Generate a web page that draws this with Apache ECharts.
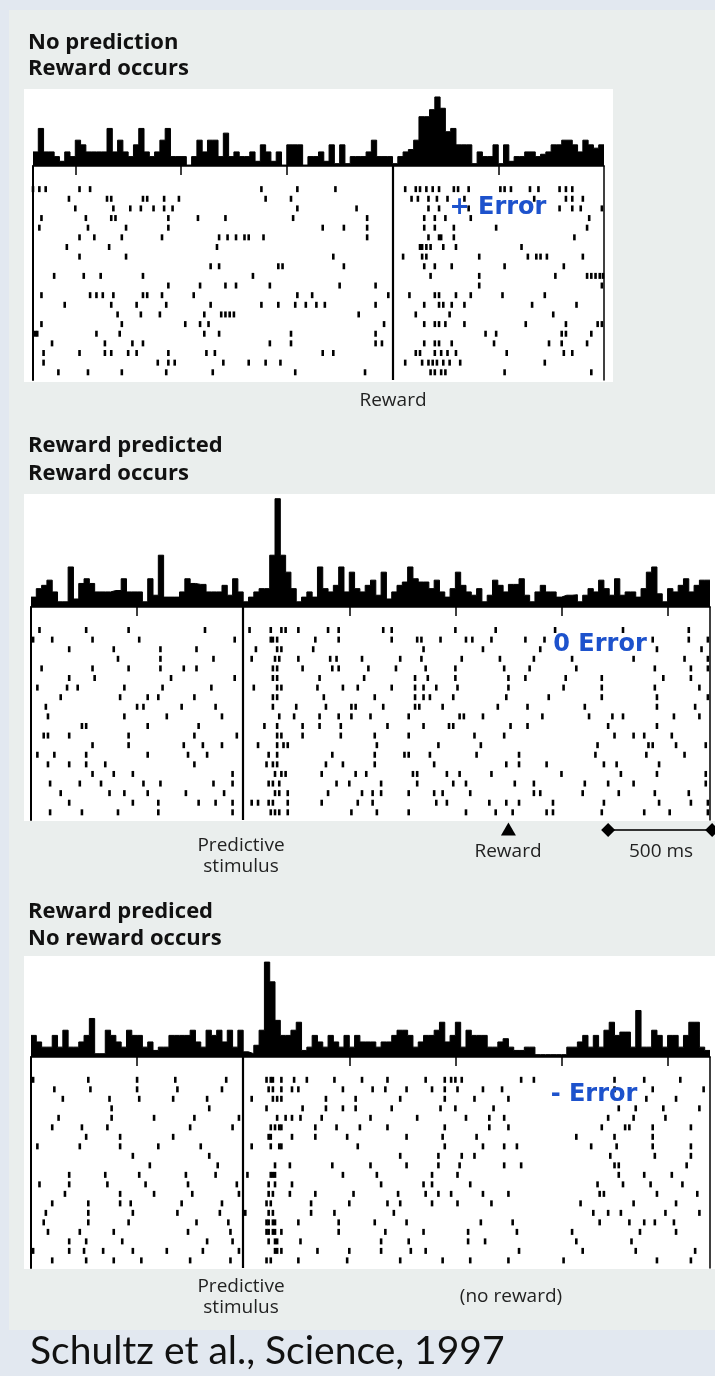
<!DOCTYPE html>
<html><head><meta charset="utf-8">
<script src="https://cdn.jsdelivr.net/npm/echarts@6/dist/echarts.min.js"></script>
<style>html,body{margin:0;padding:0;background:#e2e8f0}#c{width:715px;height:1376px}</style>
</head><body><div id="c"></div>
<script>
// ---------- data ----------
const BIN = 0.025; // histogram bin width (s)

// Panel 1: No prediction, reward occurs (time relative to reward, s)
const p1Range = [-1.7, 1.0];
const p1Ticks = [-1.5, -1.0, -0.5, 0.5];
const p1Hist = [3,8,3,3,2,1,3,2,5.5,4.5, 3,3,3,3,8,3,5.5,3,2,4.5,
  8,3,2,3,5.5,8,2,2,2,0.2, 2,5.5,3,5.5,5.5,2,7,2,3,2,
  2,3,1,4.5,3,1,3,0.2,4.5,4.5, 4.5,0.2,2,2,3,1,4.5,0.5,4.5,0.5,
  2,2,2,3,5.5,2,2,2,0.5,2, 3,3.5,5.5,10.5,10.5,12,14.7,12.3,7.3,8,
  4.5,4.5,4.5,0.5,3,2,2,4.5,0.5,4.5, 1,2,2,3,3,2,2.5,3,4.5,4.5,
  5.5,5.5,4.5,3,5.5,4.5,3.8,4.5];
const p1Raster = [
  [-1.70,-1.67,-1.64,-1.48,-1.43,-0.62,-0.45,-0.27,0.06,0.11,0.13,0.16,0.19,0.22,0.29,0.31,0.36,0.51,0.53,0.56,0.65,0.69,0.79,0.82,0.85],
  [-1.53,-1.35,-1.33,-1.18,-1.16,-1.08,-1.01,-0.60,-0.48,0.09,0.12,0.17,0.21,0.26,0.34,0.67,0.82,0.85,0.90],
  [-1.50,-1.32,-1.24,-1.19,-1.13,-1.08,-1.04,-0.45,-0.17,0.17,0.22,0.36,0.79,0.85,0.89,0.99],
  [-1.66,-1.45,-1.33,-1.31,-1.06,-0.92,-0.79,-0.47,-0.12,0.15,0.20,0.25,0.37,0.93],
  [-1.67,-1.44,-1.26,-1.06,-0.33,-0.23,-0.12,0.15,0.20,0.29,0.49,0.92],
  [-1.48,-1.41,-1.28,-1.09,-0.82,-0.78,-0.74,-0.70,-0.68,-0.61,-0.12,0.17,0.22,0.23,0.29,0.86],
  [-1.54,-1.34,-0.83,0.13,0.14,0.16,0.18,0.24,0.30,0.61],
  [-1.48,-1.26,-0.28,0.05,0.14,0.16,0.41,0.64,0.68,0.70,0.73,0.90],
  [-0.86,-0.82,-0.54,-0.52,-0.23,0.15,0.20,0.28,0.53,0.81],
  [-1.60,-1.46,-1.38,-1.18,-0.66,0.18,0.41,0.77,0.92,0.94,0.96,0.98,0.995],
  [-1.06,-0.91,-0.79,-0.74,-0.58,-0.25,-0.08,0.41,0.99],
  [-1.66,-1.43,-1.40,-1.37,-1.32,-1.18,-1.16,-1.09,-0.94,-0.45,-0.38,-0.02,0.08,0.20,0.22,0.30,0.37,0.52,0.72],
  [-1.55,-1.33,-1.21,-1.07,-0.86,-0.62,-0.54,-0.46,-0.41,-0.36,-0.32,-0.08,0.15,0.22,0.24,0.28,0.34,0.66,0.87],
  [-1.30,-1.19,-1.10,-0.89,-0.81,-0.79,-0.77,-0.75,-0.16,0.11,0.27,0.76],
  [-1.66,-1.28,-0.98,-0.91,-0.87,-0.04,0.15,0.20,0.22,0.25,0.34,0.63,0.82,0.97,0.99],
  [-1.69,-1.68,-1.40,-1.29,-0.89,-0.82,-0.48,-0.08,0.44,0.49,0.80,0.82,0.94],
  [-1.61,-1.36,-1.23,-1.18,-0.58,-0.48,-0.08,-0.05,0.15,0.20,0.22,0.28,0.48,0.74,0.80,0.92],
  [-1.65,-1.48,-1.36,-1.33,-1.25,-1.21,-1.06,-0.88,-0.84,-0.33,-0.28,0.11,0.13,0.20,0.23,0.26,0.30,0.54,0.81,0.85],
  [-1.65,-1.11,-1.06,-1.03,-0.80,-0.68,-0.60,-0.53,0.06,0.14,0.17,0.19,0.21,0.24,0.27,0.32,0.72],
  [-1.58,-1.44,-1.28,-1.07,-0.85,-0.46,-0.13,0.18,0.20,0.23,0.25,0.53,0.94]
];

// Panels 2 and 3: time relative to predictive stimulus (s)
const p23Range = [-1.0, 2.2];
const p23Ticks = [-0.5, 0.5, 1.0, 1.5, 2.0];
const rewardTime = 1.25;
const scaleBar = [1.72, 2.21]; // 500 ms

const p2Hist = [2.1,3.9,4.6,5.7,3.2,1.1,1.1,8.5,1.7,5, 6,5,3.2,3.2,3.2,3.5,3.5,6,3.2,3.2,
  3.2,1.1,6,2.5,11,2.1,2.1,2.1,3.2,6, 5,4.8,4.8,3.2,3.2,3.2,4.6,2.5,6,3.2,
  1.1,2.1,3.2,3.9,3.9,11,23,11,7.4,3.9, 1.1,2.1,3.2,2.1,8.5,3.9,3.2,4.6,8.5,3.2,
  7.4,3.9,3.2,4.6,5.7,2.5,7.4,1.7,3.2,4.6, 5.3,8.5,6,5.3,5.3,3.9,5.7,3.2,2.1,3.9,
  7.4,4.6,3.2,2.5,3.9,1.1,2.5,5.7,4.6,3.2, 4.8,4.8,6,2.5,1.1,3.2,4.6,3.2,3.2,2.1,
  2.5,2.5,2.6,1.1,2.5,3.9,3.2,5.7,3.9,2.5, 6,2.5,3.2,3.2,2.1,3.9,7.4,8.5,2.8,1.1,
  3.9,3.2,4.6,6,3.2,4.6,5.7,5.7];
const p2Raster = [
  [-0.96,-0.74,-0.54,-0.18,0.03,0.13,0.18,0.20,0.26,0.40,0.45,0.66,0.70,1.00,1.19,1.47,1.79,2.10],
  [-0.99,-0.90,-0.71,-0.49,-0.04,0.13,0.14,0.16,0.34,0.45,0.70,0.82,0.84,0.93,1.05,1.08,1.17,1.33,1.42,1.93,2.10,2.19],
  [-0.82,-0.61,-0.39,-0.22,0.06,0.16,0.18,0.33,0.85,1.13,1.40,1.95,2.16],
  [-0.59,-0.39,-0.14,0.04,0.15,0.17,0.26,0.41,0.44,0.56,0.74,0.84,1.03,1.21,1.37,1.55,1.84,2.08,2.19],
  [-0.95,-0.71,-0.54,-0.39,-0.28,-0.22,0.14,0.16,0.28,0.42,0.45,0.59,0.72,0.86,1.00,1.23,1.35,1.57,1.94,2.11,2.19],
  [-0.82,-0.70,-0.34,-0.04,0.14,0.16,0.36,0.57,0.81,0.87,1.00,1.25,1.33,1.52,1.69,1.98,2.11],
  [-0.97,-0.83,-0.78,-0.56,-0.38,-0.15,0.05,0.16,0.18,0.35,0.47,0.54,0.70,0.81,0.85,0.91,1.01,1.25,1.51,1.69,1.94,2.15],
  [-0.86,-0.58,-0.45,-0.40,-0.23,0.14,0.16,0.38,0.62,0.81,0.85,0.88,0.99,1.24,1.44,1.69,1.95,2.19],
  [-0.93,-0.50,-0.47,-0.29,-0.13,0.14,0.25,0.39,0.51,0.53,0.66,0.81,0.83,0.94,1.20,1.34,1.61,1.95,2.13],
  [-0.92,-0.56,-0.36,-0.10,0.17,0.24,0.36,0.45,0.51,0.60,0.78,1.02,1.04,1.13,1.41,1.63,1.74,1.79,2.03,2.15],
  [-0.76,-0.74,-0.45,-0.21,0.10,0.16,0.28,0.36,0.46,0.68,0.85,0.97,0.99,1.26,1.34,1.72,1.95],
  [-0.94,-0.92,-0.82,-0.54,-0.23,-0.03,0.16,0.18,0.28,0.46,0.62,0.78,1.09,1.23,1.75,1.84,1.89,2.02],
  [-0.71,-0.54,-0.28,-0.19,-0.10,0.07,0.16,0.19,0.21,0.63,0.92,1.12,1.67,1.91,1.93,2.04,2.18],
  [-0.97,-0.89,-0.74,-0.45,-0.26,-0.17,0.12,0.16,0.42,0.62,0.76,0.78,0.88,1.10,1.30,1.66,1.90,2.08],
  [-0.92,-0.82,-0.74,-0.65,-0.23,0.11,0.14,0.16,0.39,0.47,0.62,0.90,1.24,1.30,1.43,1.70,1.76,1.96],
  [-0.71,-0.61,-0.52,-0.05,0.15,0.18,0.20,0.37,0.53,0.58,0.80,0.82,0.96,1.02,1.17,1.50,1.78,1.95,2.18],
  [-0.91,-0.77,-0.67,-0.47,-0.39,-0.14,-0.05,0.12,0.14,0.17,0.44,0.50,0.65,0.82,0.99,1.05,1.28,1.37,1.61,1.72,1.84,2.18],
  [-0.86,-0.63,-0.56,-0.45,-0.27,-0.09,0.15,0.17,0.21,0.40,0.56,0.61,0.65,0.78,0.90,0.94,1.07,1.37,1.40,1.60,1.77,1.94,2.10],
  [-0.82,-0.52,-0.40,-0.21,-0.13,-0.05,0.04,0.07,0.12,0.14,0.21,0.37,0.54,0.61,0.91,0.96,1.16,1.24,1.30,1.46,1.70,1.96,2.11,2.19],
  [-0.91,-0.76,-0.59,-0.40,-0.05,0.13,0.15,0.17,0.21,0.51,0.63,0.78,1.05,1.19,1.27,1.43,1.46,1.69,1.89,2.01,2.19]
];

const p3Hist = [4.6,3.2,2.1,2.1,4.6,2.1,5.7,2.1,2.1,3.2, 4.6,8.2,0.7,0.7,5.7,4.6,3.2,2.1,5.7,4.6,
  4.6,2.1,3.2,1.4,2.1,2.1,4.6,4.6,4.6,4.6, 5.7,3.2,2.1,5.7,4.6,5.7,3.2,5.7,2.1,5.7,
  1.1,0.7,2.5,5.7,20.2,16,7.8,4.6,4.6,5.7, 7.4,1.4,2.1,4.6,3.2,2.1,4.6,3.2,2.1,4.6,
  2.1,4.6,3.2,3.2,3.2,2.1,3.2,3.2,4.6,5.7, 5.7,4.6,2.1,3.2,4.6,4.6,5.7,7.4,3.2,4.6,
  7.4,2.1,5.7,4.6,4.6,4.6,2.1,2.1,3.2,3.9, 2.1,1.4,1.4,2.1,2.1,0.5,0.5,0.5,0.5,0.5,
  0.5,2.1,2.1,3.2,4.6,2.1,4.6,2.1,5.7,7.4, 4.6,5.3,5.3,2.1,9.9,2.1,2.1,5.7,4.6,2.1,
  4.6,4.6,2.1,4.6,7.4,7.4,2.1,1.4];
const p3Raster = [
  [-0.99,-0.73,-0.50,-0.32,-0.08,0.11,0.13,0.14,0.18,0.24,0.30,0.43,0.56,0.68,0.86,0.95,0.98,1.00,1.03,1.31,1.37,1.75,1.89,2.06],
  [-0.89,-0.72,-0.50,-0.31,-0.10,0.12,0.14,0.18,0.23,0.26,0.47,0.61,0.67,0.77,0.89,0.95,1.01,1.13,1.22,1.75,1.93,2.17],
  [-0.85,-0.63,-0.49,-0.33,-0.17,0.04,0.14,0.16,0.18,0.39,0.53,0.74,0.95,1.09,1.25,1.90,2.04],
  [-0.62,-0.16,0.11,0.28,0.39,0.47,0.53,0.70,0.93,1.00,1.18,1.77,1.85,1.98,2.15],
  [-0.87,-0.62,-0.42,-0.23,-0.02,0.16,0.20,0.23,0.27,0.37,0.60,0.82,1.05,1.16,1.23,1.72,1.84,1.99],
  [-0.90,-0.76,-0.64,-0.25,-0.05,0.13,0.15,0.17,0.18,0.34,0.44,0.55,0.68,0.95,1.16,1.25,1.69,1.80,1.82,1.93,2.11],
  [-0.74,-0.58,-0.33,0.12,0.13,0.23,0.34,0.49,0.77,0.94,1.10,1.57,1.75,1.93],
  [-0.97,-0.77,-0.58,-0.40,-0.20,0.04,0.13,0.17,0.18,0.54,0.95,1.13,1.23,1.29,1.64,1.76,1.93,2.11],
  [-0.52,-0.16,0.74,0.92,1.03,1.09,1.73,1.94,2.11],
  [-0.44,-0.12,0.15,0.22,0.42,0.60,0.77,0.92,1.02,1.23,1.31,1.75,1.77,2.09],
  [-0.82,-0.65,-0.49,-0.27,-0.13,0.02,0.13,0.14,0.15,0.47,0.63,0.89,1.01,1.77,1.89,2.02],
  [-0.96,-0.82,-0.64,-0.46,-0.26,-0.03,0.12,0.15,0.23,0.65,0.85,0.89,1.07,1.67,1.79,1.92,2.07],
  [-0.84,-0.58,-0.42,-0.24,-0.02,0.12,0.14,0.22,0.34,0.52,0.73,0.86,0.92,0.98,1.13,1.25,1.68,1.70,1.95,2.14],
  [-0.90,-0.73,-0.58,-0.53,-0.29,-0.10,0.11,0.13,0.32,0.50,0.68,0.74,0.89,1.01,1.17,1.59,1.84,2.04],
  [-0.93,-0.73,-0.52,-0.31,-0.11,0.01,0.12,0.14,0.32,0.43,0.71,1.65,1.72,1.78,1.99,2.15],
  [-0.94,-0.73,-0.54,-0.22,-0.07,0.11,0.12,0.14,0.15,0.26,0.45,0.62,0.77,1.12,1.27,1.68,1.82,1.89,1.94,2.03],
  [-0.92,-0.77,-0.61,-0.26,-0.06,0.11,0.12,0.14,0.15,0.18,0.45,0.67,0.85,1.06,1.29,1.55,1.87,2.04],
  [-0.82,-0.74,-0.57,-0.17,-0.05,0.12,0.15,0.16,0.27,0.65,0.78,1.06,1.14,1.57,1.83],
  [-0.99,-0.82,-0.75,-0.66,-0.52,-0.36,-0.19,-0.02,0.15,0.16,0.18,0.35,0.50,0.65,0.79,0.86,1.30,1.60,1.85,2.13],
  [-0.90,-0.74,-0.61,-0.48,-0.25,-0.06,0.11,0.13,0.26,0.49,0.74,0.94,1.07,1.25,1.51,1.95,2.11]
];

// ---------- helpers ----------
function histData(h, start) {
  const d = h.map((v, i) => [+(start + i * BIN).toFixed(4), v]);
  d.push([+(start + h.length * BIN).toFixed(4), h[h.length - 1]]);
  return d;
}
function rasterData(r) {
  const d = [];
  r.forEach((row, i) => row.forEach(t => d.push([t, i])));
  return d;
}

const RY = [-2.4, 19.8]; // raster row axis (trial index, top to bottom)

// panel geometry
const panels = [
  { range: p1Range, ticks: p1Ticks, hist: p1Hist, raster: p1Raster, left: 33, width: 571, hTop: 89, hH: 77, rH: 214, hMax: 16.4 },
  { range: p23Range, ticks: p23Ticks, hist: p2Hist, raster: p2Raster, left: 31, width: 679, hTop: 494, hH: 113, rH: 213, hMax: 24.0 },
  { range: p23Range, ticks: p23Ticks, hist: p3Hist, raster: p3Raster, left: 31, width: 679, hTop: 956, hH: 101, rH: 211, hMax: 21.5 }
];

const grid = [], xAxis = [], yAxis = [], series = [];
panels.forEach((p, k) => {
  const gh = k * 2, gr = k * 2 + 1;
  grid.push({ left: p.left, width: p.width, top: p.hTop, height: p.hH });
  grid.push({ left: p.left, width: p.width, top: p.hTop + p.hH, height: p.rH });
  xAxis.push({
    gridIndex: gh, type: 'value', min: p.range[0], max: p.range[1],
    axisLine: { show: true, onZero: false, lineStyle: { color: '#000', width: 1.5 } },
    axisTick: { show: true, customValues: p.ticks, length: 9, inside: false, lineStyle: { color: '#000', width: 1.5 } },
    axisLabel: { show: false }, splitLine: { show: false }
  });
  xAxis.push({ gridIndex: gr, type: 'value', min: p.range[0], max: p.range[1], show: false });
  yAxis.push({ gridIndex: gh, type: 'value', min: 0, max: p.hMax, show: false });
  yAxis.push({
    gridIndex: gr, type: 'value', inverse: true, min: RY[0], max: RY[1], position: 'left',
    axisLine: { show: true, onZero: false, lineStyle: { color: '#000', width: 2 } },
    axisTick: { show: false }, axisLabel: { show: false }, splitLine: { show: false }
  });
  yAxis.push({
    gridIndex: gr, type: 'value', inverse: true, min: RY[0], max: RY[1], position: 'right',
    axisLine: { show: true, onZero: false, lineStyle: { color: '#000', width: 1.5 } },
    axisTick: { show: false }, axisLabel: { show: false }, splitLine: { show: false }
  });
});
// yAxis indices: panel k -> hist = 3k, raster = 3k+1
panels.forEach((p, k) => {
  series.push({
    type: 'line', xAxisIndex: 2 * k, yAxisIndex: 3 * k, data: histData(p.hist, p.range[0]),
    step: 'end', symbol: 'none', silent: true,
    lineStyle: { color: '#000', width: 1 }, areaStyle: { color: '#000', opacity: 1 }
  });
  series.push({
    type: 'scatter', xAxisIndex: 2 * k + 1, yAxisIndex: 3 * k + 1, data: rasterData(p.raster),
    symbol: 'rect', symbolSize: [2.6, 6], itemStyle: { color: '#000', opacity: 1 }, silent: true,
    markLine: { silent: true, symbol: 'none', label: { show: false }, animation: false,
      lineStyle: { color: '#000', width: 2.2, type: 'solid', opacity: 1 }, data: [{ xAxis: 0 }] }
  });
});
// reward triangle and 500 ms scale bar (panel 2)
series.push({
  type: 'scatter', xAxisIndex: 3, yAxisIndex: 4, clip: false, silent: true,
  data: [[rewardTime, 20.75]], symbol: 'triangle', symbolSize: [15, 13], itemStyle: { color: '#000', opacity: 1 }
});
series.push({
  type: 'line', xAxisIndex: 3, yAxisIndex: 4, clip: false, silent: true,
  data: [[scaleBar[0], 20.85], [scaleBar[1], 20.85]], symbol: 'diamond', symbolSize: 14,
  itemStyle: { color: '#000', opacity: 1 }, lineStyle: { color: '#333', width: 2 }
});

// ---------- text & backgrounds ----------
const TF = 'bold 22px "Open Sans", sans-serif';
const LF = '19px "Open Sans", sans-serif';
const EF = 'bold 24px "DejaVu Sans", sans-serif';
const BLUE = '#1d52cc';
function txt(text, x, y, font, align, fill) {
  return { type: 'text', z: 100, silent: true,
    style: { text, x, y, font, fill: fill || '#111', align: align || 'left', verticalAlign: 'middle' } };
}
function rect(x, y, w, h, fill) {
  return { type: 'rect', z: -10, silent: true, shape: { x, y, width: w, height: h }, style: { fill } };
}
const graphic = [
  rect(0, 0, 715, 1376, '#e2e8f0'),
  rect(9, 10, 706, 1320, '#eaeeed'),
  rect(24, 89, 589, 293, '#ffffff'),
  rect(24, 494, 691, 327, '#ffffff'),
  rect(24, 956, 691, 313, '#ffffff'),
  txt('No prediction', 28, 43, TF), txt('Reward occurs', 28, 69, TF),
  txt('Reward predicted', 28, 446, TF), txt('Reward occurs', 28, 474, TF),
  txt('Reward prediced', 28, 912, TF), txt('No reward occurs', 28, 939, TF),
  txt('Reward', 393, 401, LF, 'center', '#222'),
  txt('Predictive', 241, 846, LF, 'center', '#222'), txt('stimulus', 241, 867, LF, 'center', '#222'),
  txt('Reward', 508, 852, LF, 'center', '#222'), txt('500 ms', 661, 852, LF, 'center', '#222'),
  txt('Predictive', 241, 1287, LF, 'center', '#222'), txt('stimulus', 241, 1308, LF, 'center', '#222'),
  txt('(no reward)', 511, 1297, LF, 'center', '#222'),
  txt('+ Error', 498, 208, EF, 'center', BLUE),
  txt('0 Error', 600, 645, EF, 'center', BLUE),
  txt('- Error', 594, 1095, EF, 'center', BLUE),
  txt('Schultz et al., Science, 1997', 30, 1351, '39px Lato, sans-serif', 'left', '#111')
];

const chart = echarts.init(document.getElementById('c'), null, { renderer: 'canvas', width: 715, height: 1376 });
chart.setOption({
  animation: false,
  backgroundColor: '#e2e8f0',
  graphic: { elements: graphic },
  grid, xAxis, yAxis, series
});
</script>
</body></html>
